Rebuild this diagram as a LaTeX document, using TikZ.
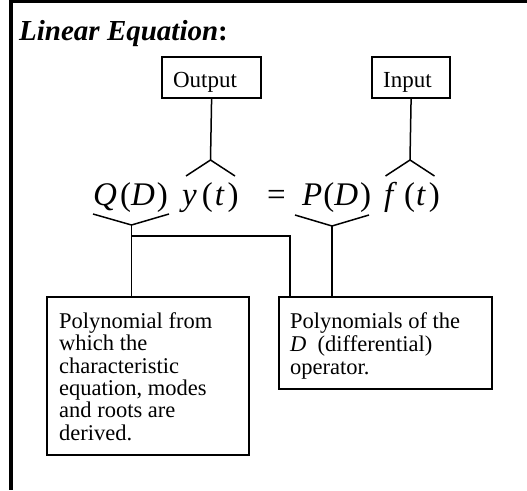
\documentclass[tikz,border=0pt]{standalone}
\usepackage{fontspec}
\setmainfont{Liberation Serif}
\usetikzlibrary{calc}
\tikzset{
  lbox/.style={draw, line width=2.2pt, rectangle, inner sep=0pt},
  wire/.style={line width=1.5pt},
  hat/.style={line width=1.5pt, line join=miter},
  smalltxt/.style={font=\fontsize{22.5}{22.4}\selectfont, inner sep=0pt, align=left, anchor=north west},
  eq/.style={font=\fontsize{33}{36}\selectfont, inner sep=0pt, anchor=base west},
  tagbox/.style={draw, line width=2.2pt, font=\fontsize{23}{25}\selectfont, inner xsep=11pt, inner ysep=0pt, align=left, anchor=north west, text height=30.5pt, text depth=10.5pt}
}
\begin{document}
\begin{tikzpicture}[x=1pt, y=-1pt]
\useasboundingbox (0,0) rectangle (527,490);
% frame
\draw[line width=2.7pt] (9.5,1.35) -- (527,1.35);
\draw[line width=4pt] (11.4,0) -- (11.4,490);
% title
\node[inner sep=0pt, anchor=base west, font=\fontsize{29}{32}\selectfont] (title) at (19,40) {\textbf{\textit{Linear Equation}:}};
% top tag boxes
\node[tagbox, text width=77pt] (out) at (161,55.5) {Output};
\node[tagbox, text width=56pt] (in) at (371,55.5) {Input};
% equation
\node[eq] (qd) at (93,205) {\textit{Q}\hspace{3pt}(\textit{D}\hspace{2pt})};
\node[eq] (yt) at (182,205) {\textit{y}\hspace{5pt}(\hspace{2pt}\textit{t}\hspace{3pt})};
\node[eq] (eqs) at (267,205) {=};
\node[eq] (pd) at (302,205) {\textit{P}\hspace{1pt}(\textit{D}\hspace{2pt})};
\node[eq] (ft) at (384,205) {\textit{f}\hspace{7pt}(\hspace{1pt}\textit{t}\hspace{3pt})};
% hats above
\coordinate (ya) at (210.5,160);
\coordinate (fa) at (410,160);
\draw[wire] (out.south) -- (ya);
\draw[hat] ($(ya)+(-24.5,16)$) -- (ya) -- ($(ya)+(24.5,16)$);
\draw[wire] (in.south) -- (fa);
\draw[hat] ($(fa)+(-24.5,16)$) -- (fa) -- ($(fa)+(24.5,16)$);
% braces below
\coordinate (qa) at (131.5,225);
\coordinate (pa) at (332,226);
\draw[hat] (93,214) -- (qa) -- (169,214);
\draw[hat] (295,215) -- (pa) -- (369,215);
% lower boxes
\node[lbox, minimum width=202pt, minimum height=158pt, anchor=north west] (b1) at (46,296) {};
\node[lbox, minimum width=213.5pt, minimum height=92pt, anchor=north west] (b2) at (277.6,296) {};
\node[smalltxt] (t1) at (59,312.3) {\strut Polynomial from\\which the\\characteristic\\equation, modes\\and roots are\\derived.};
\node[smalltxt] (t2) at (290,312.3) {\strut Polynomials of the\\\textit{D}~~(differential)\\operator.};
% connectors
\coordinate (qj) at (131.5,236);
\draw[wire] (qa) -- (qa |- b1.north);
\draw[wire] (qj) -- (290,236) -- (290,0 |- b2.north);
\draw[wire] (pa) -- (pa |- b2.north);
\end{tikzpicture}
\end{document}
